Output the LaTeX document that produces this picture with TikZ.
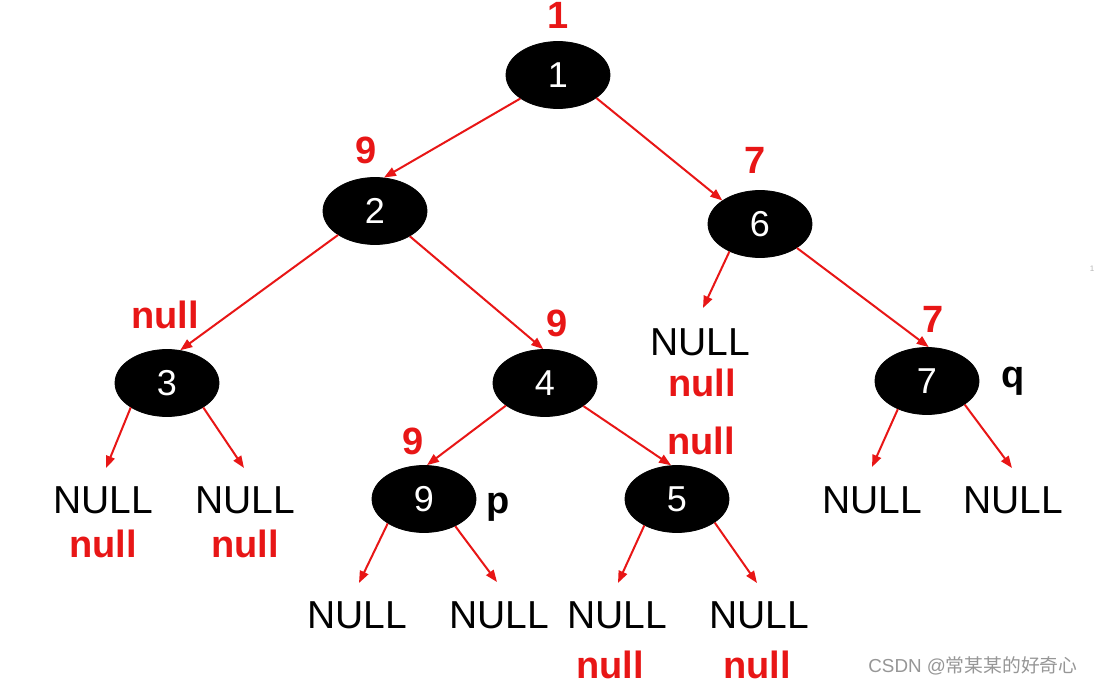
\documentclass[tikz,border=0pt]{standalone}
\usepackage{fontspec}
\setmainfont{Liberation Sans}
\newfontfamily\cjk{Noto Sans CJK SC}
\usetikzlibrary{arrows.meta,shapes.geometric}
\definecolor{mred}{RGB}{232,22,22}
\definecolor{wgray}{RGB}{150,150,150}
\tikzset{
  tnode/.style={ellipse,fill=black,draw=black,inner sep=0pt,minimum width=52pt,minimum height=33.5pt,text=white,font=\fontsize{18}{18}\selectfont},
  nulltxt/.style={anchor=base,inner sep=0pt,font=\fontsize{19.5}{19.5}\selectfont},
  redtxt/.style={anchor=base,inner sep=0pt,text=mred,font=\fontsize{19}{19}\selectfont\bfseries},
  blktxt/.style={anchor=base,inner sep=0pt,font=\fontsize{19}{19}\selectfont\bfseries},
  edge/.style={draw=mred,line width=1pt,-{Triangle[length=6pt,width=4.5pt]}}
}
\begin{document}
\begin{tikzpicture}[x=0.5pt,y=-0.5pt]
\useasboundingbox[fill=white] (0,0) rectangle (1094,685);
% tree nodes
\node[tnode] (n1) at (558,75) {1};
\node[tnode] (n2) at (375,211) {2};
\node[tnode] (n6) at (760,224) {6};
\node[tnode] (n3) at (167,383) {3};
\node[tnode] (n4) at (545,383) {4};
\node[tnode] (n7) at (927,381) {7};
\node[tnode] (n9) at (424,499) {9};
\node[tnode] (n5) at (677,499) {5};
% NULL texts
\node[nulltxt] (u6) at (700,355) {NULL};
\node[nulltxt] (u3a) at (103,513) {NULL};
\node[nulltxt] (u3b) at (245,513) {NULL};
\node[nulltxt] (u7a) at (872,513) {NULL};
\node[nulltxt] (u7b) at (1013,513) {NULL};
\node[nulltxt] (u9a) at (357,628) {NULL};
\node[nulltxt] (u9b) at (499,628) {NULL};
\node[nulltxt] (u5a) at (617,628) {NULL};
\node[nulltxt] (u5b) at (759,628) {NULL};
% red annotations
\node[redtxt] (r1) at (558,28) {1};
\node[redtxt] (r2) at (366,163) {9};
\node[redtxt] (r6) at (755,173) {7};
\node[redtxt] (r3) at (165,328) {null};
\node[redtxt] (r4) at (557,336) {9};
\node[redtxt] (r6n) at (702,396) {null};
\node[redtxt] (r7) at (933,332) {7};
\node[redtxt] (r9) at (413,454) {9};
\node[redtxt] (r5) at (701,454) {null};
\node[redtxt] (r3a) at (103,557) {null};
\node[redtxt] (r3b) at (245,557) {null};
\node[redtxt] (r5a) at (610,678) {null};
\node[redtxt] (r5b) at (757,678) {null};
% pointer labels
\node[blktxt] (lq) at (1013,387) {q};
\node[blktxt] (lp) at (498,513) {p};
% watermark and stray mark
\node[anchor=base,inner sep=0pt,text=wgray,font=\fontsize{9.4}{9.4}\selectfont] (wm) at (973,672) {CSDN @{\cjk 常某某的好奇心}};
\node[anchor=base,inner sep=0pt,text=wgray!70,font=\fontsize{4}{4}\selectfont] (st) at (1092,271) {1};
% free arrow ends
\coordinate (e6) at (703,308);
\coordinate (e3a) at (106,468);
\coordinate (e3b) at (244,468);
\coordinate (e9a) at (359,583);
\coordinate (e9b) at (497,582);
\coordinate (e5a) at (618,583);
\coordinate (e5b) at (757,583);
\coordinate (e7a) at (872,467);
\coordinate (e7b) at (1012,468);
% connectors
\draw[edge] (n1.212) -- (n2.75);
\draw[edge] (n1.-31) -- (n6.148);
\draw[edge] (n2.213) -- (n3.68);
\draw[edge] (n2.-36) -- (n4.93);
\draw[edge] (n6.222) -- (e6);
\draw[edge] (n6.-33) -- (n7.87);
\draw[edge] (n3.214) -- (e3a);
\draw[edge] (n3.-34) -- (e3b);
\draw[edge] (n4.210) -- (n9.85);
\draw[edge] (n4.-31) -- (n5.100);
\draw[edge] (n9.214) -- (e9a);
\draw[edge] (n9.-41) -- (e9b);
\draw[edge] (n5.219) -- (e5a);
\draw[edge] (n5.-32) -- (e5b);
\draw[edge] (n7.224) -- (e7a);
\draw[edge] (n7.-32) -- (e7b);
\end{tikzpicture}
\end{document}
